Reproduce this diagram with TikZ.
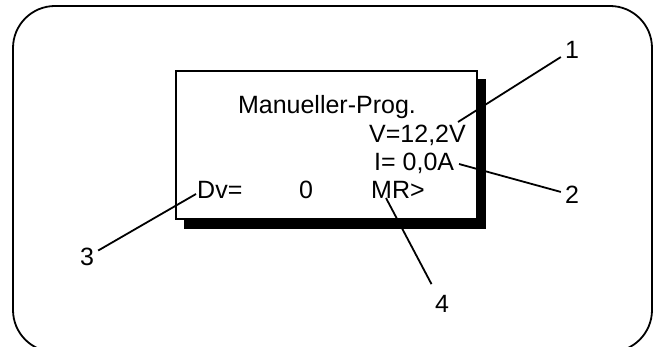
\documentclass[tikz,border=0pt]{standalone}
\usepackage{fontspec}
\setmainfont{Liberation Sans}
\usepackage{tikz}
\usetikzlibrary{positioning,calc}

\begin{document}
\begin{tikzpicture}[x=1pt, y=-1pt,
    lcd/.style={inner sep=0pt, anchor=base west, font=\fontsize{25}{30}\selectfont},
    callout/.style={inner sep=4pt, font=\fontsize{25}{30}\selectfont},
    leader/.style={line width=1.8pt, draw=black}]
    \useasboundingbox (0,0) rectangle (659,347);
    \clip (0,0) rectangle (659,347);

    % Frame
    \draw[line width=1.8pt, rounded corners=42pt] (13,6) rectangle (652,352);

    % Display with shadow
    \fill[black] (184,79) rectangle (486,229);
    \draw[line width=1.6pt, fill=white] (176,71) rectangle (477,219);

    % Display texts
    \node[lcd, anchor=base] (title) at (327,114) {Manueller-Prog.};
    \node[lcd] (volt)  at (369,143) {V=12,2V};
    \node[lcd] (amp)   at (374,171) {I= 0,0A};
    \node[lcd] (dv)    at (197,199) {Dv=};
    \node[lcd] (dvval) at (299,199) {0};
    \node[lcd] (mode)  at (371,199) {MR>};

    % Callout numbers
    \node[callout] (n1) at (572,50)  {1};
    \node[callout] (n2) at (572,195) {2};
    \node[callout] (n3) at (87,257)  {3};
    \node[callout] (n4) at (442,304) {4};

    % Leader lines
    \coordinate (p1) at (458,122);
    \coordinate (p2) at (459,164);
    \coordinate (p3) at (196,194);
    \coordinate (p4) at (386,198);
    \draw[leader] (p1) -- (n1);
    \draw[leader] (p2) -- (n2);
    \draw[leader] (p3) -- (n3);
    \draw[leader, shorten >=8pt] (p4) -- (n4);
\end{tikzpicture}
\end{document}
